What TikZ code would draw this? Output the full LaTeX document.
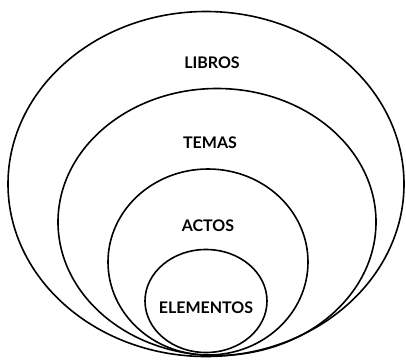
\documentclass[tikz,border=0pt]{standalone}
\usepackage{fontspec}
\setmainfont{Lato}
\usetikzlibrary{positioning}
\usetikzlibrary{shapes.geometric}
\tikzset{ring/.style={draw, ellipse, line width=1.6pt, inner sep=0pt}}
\tikzset{lbl/.style={font=\fontsize{16}{18}\selectfont\bfseries, inner sep=1pt}}

\begin{document}
\begin{tikzpicture}[x=1pt,y=-1pt]
\useasboundingbox (0,0) rectangle (406,359);

\node[ring, minimum width=396pt, minimum height=345pt] (libros) at (206,184) {};
\node[ring, minimum width=318pt, minimum height=267pt] (temas) at (217,222) {};
\node[ring, minimum width=200pt, minimum height=186pt] (actos) at (208,262) {};
\node[ring, minimum width=122pt, minimum height=103pt] (elementos) at (206,301) {};

\node[lbl] (librosl) at (212,63) {LIBROS};
\node[lbl] (temasl) at (210,143) {TEMAS};
\node[lbl] (actosl) at (208,226) {ACTOS};
\node[lbl] (elementosl) at (206,308) {ELEMENTOS};
\end{tikzpicture}
\end{document}
